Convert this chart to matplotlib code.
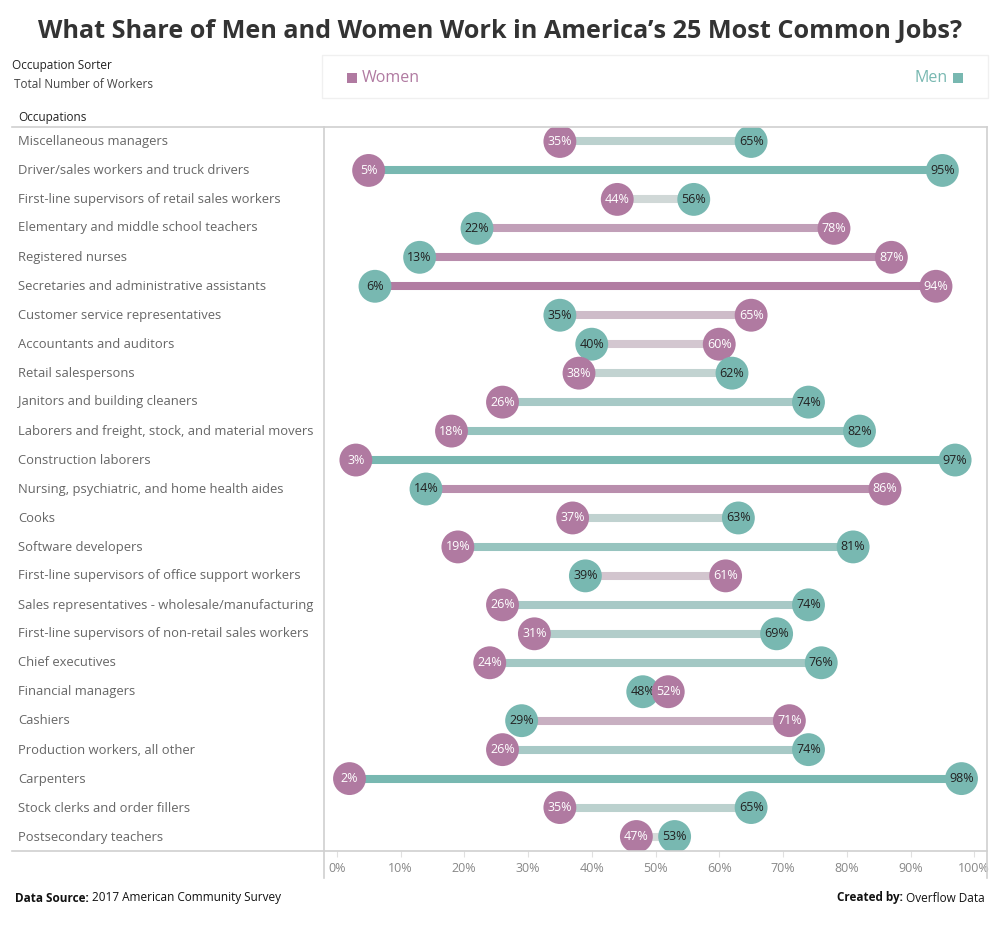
import numpy as np
import matplotlib
matplotlib.use("Agg")
import matplotlib.pyplot as plt
from matplotlib.lines import Line2D
from matplotlib.patches import Rectangle
from matplotlib.colors import to_rgb

plt.rcParams['font.family'] = ['Open Sans', 'DejaVu Sans']

# occupations, top to bottom
occupations = [
    "Miscellaneous managers",
    "Driver/sales workers and truck drivers",
    "First-line supervisors of retail sales workers",
    "Elementary and middle school teachers",
    "Registered nurses",
    "Secretaries and administrative assistants",
    "Customer service representatives",
    "Accountants and auditors",
    "Retail salespersons",
    "Janitors and building cleaners",
    "Laborers and freight, stock, and material movers",
    "Construction laborers",
    "Nursing, psychiatric, and home health aides",
    "Cooks",
    "Software developers",
    "First-line supervisors of office support workers",
    "Sales representatives - wholesale/manufacturing",
    "First-line supervisors of non-retail sales workers",
    "Chief executives",
    "Financial managers",
    "Cashiers",
    "Production workers, all other",
    "Carpenters",
    "Stock clerks and order fillers",
    "Postsecondary teachers",
]
women = [35, 5, 44, 78, 87, 94, 65, 60, 38, 26, 18, 3, 86, 37, 19, 61, 26, 31, 24, 52, 71, 26, 2, 35, 47]
men = [65, 95, 56, 22, 13, 6, 35, 40, 62, 74, 82, 97, 14, 63, 81, 39, 74, 69, 76, 48, 29, 74, 98, 65, 53]
ticks = [0, 10, 20, 30, 40, 50, 60, 70, 80, 90, 100]

c_women = "#b07aa1"
c_men = "#78b8b1"
c_mid = "#dddddd"


def line_color(w, m):
    d = m - w
    t = min(abs(d) / 90.0, 1.0)
    end = np.array(to_rgb(c_men if d > 0 else c_women))
    mid = np.array(to_rgb(c_mid))
    return tuple(mid + (end - mid) * t)


fig = plt.figure(figsize=(10, 9.25), dpi=100)
W, H = 1000, 925


def fx(px):
    return px / W


def fy(py):
    return 1 - py / H


ax = fig.add_axes([fx(324), fy(851), fx(987) - fx(324), fy(127) - fy(851)])
n = len(occupations)
for i in range(n):
    w, m = women[i], men[i]
    ax.plot([w, m], [i, i], color=line_color(w, m), lw=5.8, solid_capstyle='butt', zorder=1)
    pts = sorted([(w, c_women, 'white'), (m, c_men, '#222222')], key=lambda p: p[0])
    for k, (v, col, tc) in enumerate(pts):
        z = 2 + 2 * k
        ax.scatter([v], [i], s=560, color=col, edgecolors='none', zorder=z)
        ax.text(v, i, f"{v}%", ha='center', va='center', fontsize=9, color=tc, zorder=z + 1)

ax.set_xlim(-2, 102)
ax.set_ylim(n - 0.5, -0.5)
ax.set_yticks([])
ax.set_xticks(ticks)
ax.set_xticklabels([f"{t}%" for t in ticks], fontsize=9, color="#888888")
ax.tick_params(axis='x', length=4, color="#e0e0e0", pad=4)
for s in ['left', 'right', 'top', 'bottom']:
    ax.spines[s].set_visible(False)

# occupation labels
for i, name in enumerate(occupations):
    fig.text(fx(18), fy(141 + i * 29), name, ha='left', va='center', fontsize=9.4, color="#666666")

# borders
bc = "#d0d0d0"
fig.add_artist(Line2D([fx(12), fx(987)], [fy(127), fy(127)], color=bc, lw=1.2))
fig.add_artist(Line2D([fx(12), fx(987)], [fy(851), fy(851)], color=bc, lw=1.2))
fig.add_artist(Line2D([fx(324), fx(324)], [fy(127), fy(878)], color=bc, lw=1.2))
fig.add_artist(Line2D([fx(987), fx(987)], [fy(127), fy(878)], color=bc, lw=1.2))

# title
fig.text(0.5, fy(31), "What Share of Men and Women Work in America\u2019s 25 Most Common Jobs?",
         ha='center', va='center', fontsize=18.2, fontweight='bold', color="#333333")

# header
fig.text(fx(12), fy(66), "Occupation Sorter", ha='left', va='center', fontsize=8.5, color="#222222")
fig.text(fx(14), fy(84), "Total Number of Workers", ha='left', va='center', fontsize=8.5, color="#444444")
fig.text(fx(18), fy(117), "Occupations", ha='left', va='center', fontsize=8.5, color="#222222")

# legend box
fig.add_artist(Rectangle((fx(322), fy(98)), fx(988) - fx(322), fy(55) - fy(98),
                         fill=False, edgecolor="#f0f0f0", lw=1))
fig.add_artist(Rectangle((fx(347), fy(83)), fx(10), fy(73) - fy(83), color=c_women, lw=0))
fig.text(fx(362), fy(78), "Women", ha='left', va='center', fontsize=11.5, color=c_women)
fig.add_artist(Rectangle((fx(953), fy(83)), fx(10), fy(73) - fy(83), color=c_men, lw=0))
fig.text(fx(948), fy(78), "Men", ha='right', va='center', fontsize=11.5, color=c_men)

# footer
t1 = fig.text(fx(15), fy(898), "Data Source:", ha='left', va='center', fontsize=8.5,
              fontweight='bold', color="#111111")
fig.canvas.draw()
bb = t1.get_window_extent()
fig.text(bb.x1 / W + fx(3), fy(898), "2017 American Community Survey", ha='left', va='center',
         fontsize=8.5, color="#111111")
t2 = fig.text(fx(985), fy(898), "Overflow Data", ha='right', va='center', fontsize=8.5, color="#111111")
fig.canvas.draw()
bb2 = t2.get_window_extent()
fig.text(bb2.x0 / W - fx(3), fy(898), "Created by:", ha='right', va='center', fontsize=8.5,
         fontweight='bold', color="#111111")

fig.savefig("out.png", dpi=100)
